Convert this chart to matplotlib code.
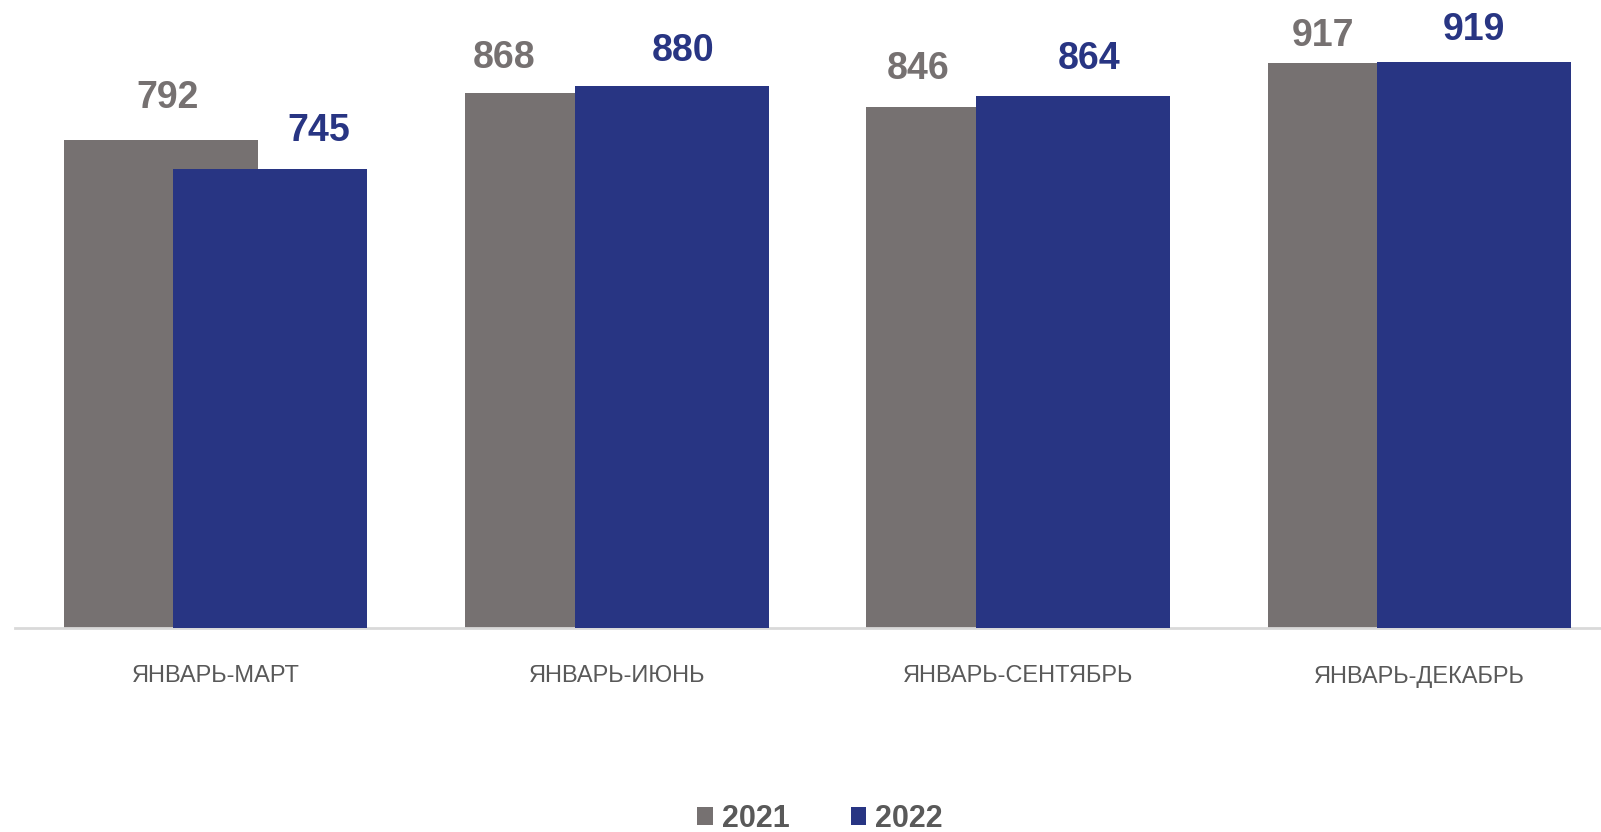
import matplotlib.pyplot as plt
from matplotlib.patches import Patch

plt.rcParams["font.family"] = ["Liberation Sans", "DejaVu Sans"]

# Data
periods = ["ЯНВАРЬ-МАРТ", "ЯНВАРЬ-ИЮНЬ", "ЯНВАРЬ-СЕНТЯБРЬ", "ЯНВАРЬ-ДЕКАБРЬ"]
values_2021 = [792, 868, 846, 917]
values_2022 = [745, 880, 864, 919]
years = ["2021", "2022"]

# Styling
color_2021 = "#767171"
color_2022 = "#283583"
text_gray = "#595959"
bar_width = 0.4835
shift = 0.1366

# manual label nudges (pixels), as in the source chart
offsets_2021 = [(7, -42), (-58, -35), (-45, -38), (-42, -27)]
offsets_2022 = [(48, -38), (11, -35), (16, -37), (0, -32)]

W, H = 1601, 832
fig = plt.figure(figsize=(W / 100, H / 100), dpi=100)
ax = fig.add_axes([15 / W, (H - 628) / H, 1605 / W, 628 / H])

x = list(range(len(periods)))
x1 = [i - shift for i in x]
x2 = [i + shift for i in x]

ax.bar(x1, values_2021, width=bar_width, color=color_2021, zorder=2)
ax.bar(x2, values_2022, width=bar_width, color=color_2022, zorder=3)

for xi, v, (dx, dy) in zip(x1, values_2021, offsets_2021):
    ax.annotate(str(v), (xi, v), xytext=(dx, -dy), textcoords="offset pixels",
                ha="center", va="center", fontsize=27, fontweight="bold",
                color=color_2021)
for xi, v, (dx, dy) in zip(x2, values_2022, offsets_2022):
    ax.annotate(str(v), (xi, v), xytext=(dx, -dy), textcoords="offset pixels",
                ha="center", va="center", fontsize=27, fontweight="bold",
                color=color_2022)

ax.set_xlim(-0.5, 3.5)
ax.set_ylim(0, 1019)
ax.set_xticks(x)
ax.set_xticklabels(periods, fontsize=17, color=text_gray)
ax.tick_params(axis="x", length=0, pad=27)
ax.set_yticks([])

for side in ["top", "right", "left"]:
    ax.spines[side].set_visible(False)
ax.spines["bottom"].set_color("#D9D9D9")
ax.spines["bottom"].set_linewidth(2)

handles = [Patch(facecolor=color_2021), Patch(facecolor=color_2022)]
leg = fig.legend(handles, years, loc="center", bbox_to_anchor=(820 / W, 1 - 819 / H),
                 ncol=2, frameon=False, handlelength=0.5, handleheight=0.5,
                 handletextpad=0.3, columnspacing=2.0, borderpad=0.2,
                 prop={"size": 22, "weight": "bold"})
for t in leg.get_texts():
    t.set_color(text_gray)

fig.savefig("out.png", dpi=100)
